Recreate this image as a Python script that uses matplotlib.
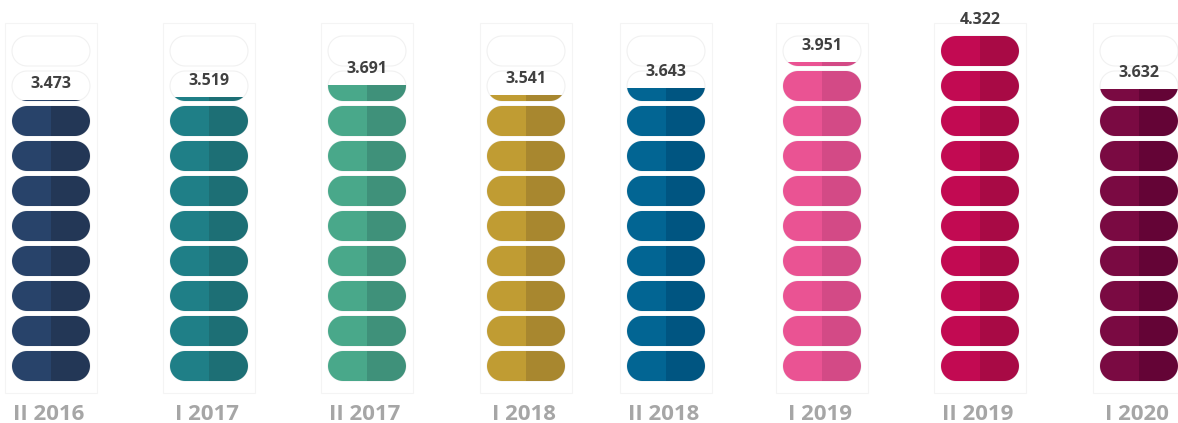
import numpy as np
import matplotlib.pyplot as plt
from matplotlib.patches import PathPatch, Rectangle
from matplotlib.path import Path

# Данные
periods = ['II 2016', 'I 2017', 'II 2017', 'I 2018', 'II 2018', 'I 2019', 'II 2019', 'I 2020']
values = [3.473, 3.519, 3.691, 3.541, 3.643, 3.951, 4.322, 3.632]
light_colors = ['#28436a', '#1f7f87', '#49a88a', '#c09c33', '#026593', '#ea5393', '#c20a52', '#7a0a42']
dark_colors = ['#233756', '#1d6f75', '#3f917a', '#a8872f', '#005581', '#d34a86', '#a80a45', '#640436']

# Разметка (в пикселях)
col_x = [51, 209, 367, 526, 666, 822, 980, 1139]
n_slots = 10
slot_step = 35
pill_w, pill_h = 78, 30
bottom_center = 366
unit = max(values) / n_slots

fig = plt.figure(figsize=(11.78, 4.23), dpi=100)
ax = fig.add_axes([0, 0, 1, 1])
ax.set_xlim(0, 1178)
ax.set_ylim(423, 0)
ax.axis('off')


def stadium(cx, cy):
    r = pill_h / 2
    t1 = np.linspace(np.pi / 2, -np.pi / 2, 30)
    t2 = np.linspace(-np.pi / 2, -3 * np.pi / 2, 30)
    right = np.column_stack([cx + pill_w / 2 - r + r * np.cos(t1), cy + r * np.sin(t1)])
    left = np.column_stack([cx - pill_w / 2 + r + r * np.cos(t2), cy + r * np.sin(t2)])
    verts = np.vstack([right, left, right[:1]])
    codes = [Path.MOVETO] + [Path.LINETO] * (len(verts) - 2) + [Path.CLOSEPOLY]
    return Path(verts, codes)


def pill(cx, cy, color, ec='none', lw=0, clip=None, z=2):
    p = PathPatch(stadium(cx, cy), fc=color, ec=ec, lw=lw, zorder=z)
    ax.add_patch(p)
    if clip is not None:
        p.set_clip_path(clip)
    return p


for i, (cx, v) in enumerate(zip(col_x, values)):
    # рамка панели
    ax.add_patch(Rectangle((cx - 46, 23), 92, 370, fc='none', ec='#f4f4f4', lw=0.8, zorder=0))
    n_full = int(v / unit + 1e-9)
    frac = v / unit - n_full
    for k in range(n_slots):
        cy = bottom_center - k * slot_step
        # пустая ячейка
        pill(cx, cy, 'white', ec='#f1f1f1', lw=0.8, z=1)
        if k < n_full:
            fill_top = cy - pill_h / 2 - 1
        elif k == n_full and frac > 0.005:
            fill_top = cy + pill_h / 2 - frac * pill_h
        else:
            continue
        h = cy + pill_h / 2 + 1 - fill_top
        clip_l = Rectangle((cx - pill_w / 2 - 1, fill_top), pill_w / 2 + 1, h, transform=ax.transData)
        clip_r = Rectangle((cx, fill_top), pill_w / 2 + 1, h, transform=ax.transData)
        pill(cx, cy, light_colors[i], clip=clip_l, z=2)
        pill(cx, cy, dark_colors[i], clip=clip_r, z=2)
    # верх заливки
    if frac > 0.005:
        fill_top = bottom_center - n_full * slot_step + pill_h / 2 - frac * pill_h
    else:
        fill_top = bottom_center - (n_full - 1) * slot_step - pill_h / 2
    ax.text(cx, fill_top - 16, f'{v:.3f}', ha='center', va='center', fontsize=11.5,
            fontweight='bold', color='#404040', family='Open Sans', zorder=5)
    ax.text(cx - 2, 414, periods[i], ha='center', va='center', fontsize=16,
            fontweight='bold', color='#a6a6a6', family='Open Sans')

fig.savefig('out.png', dpi=100)
